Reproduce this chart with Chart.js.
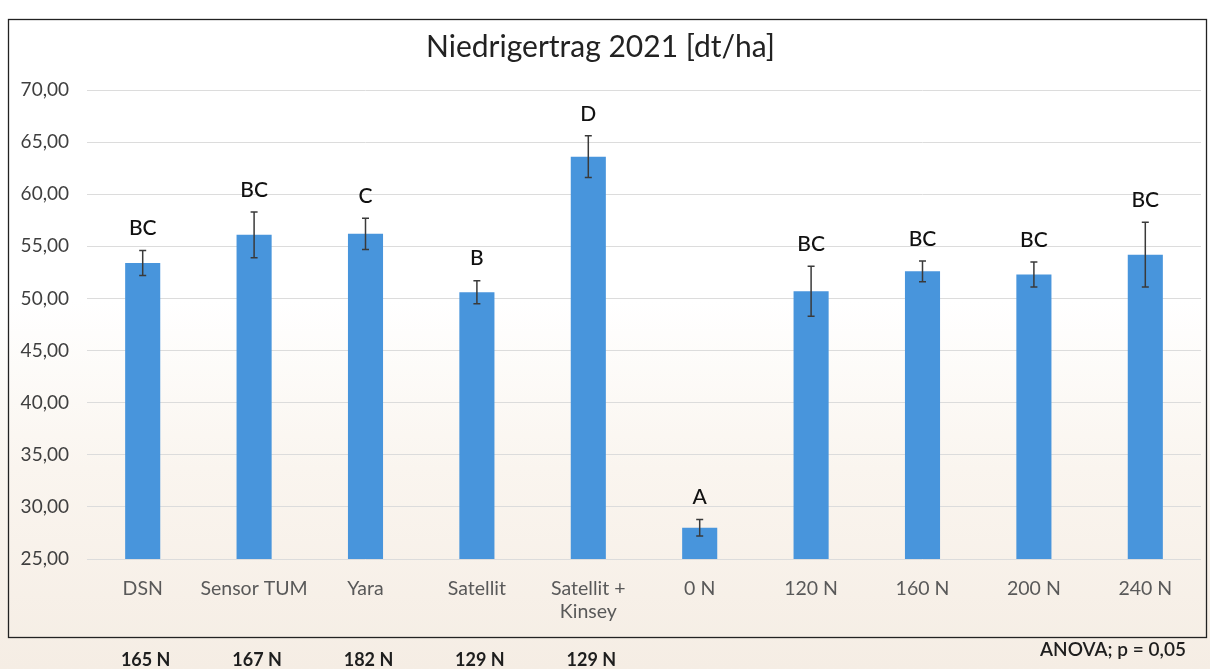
<!DOCTYPE html>
<html>
<head>
<meta charset="utf-8">
<script src="https://cdn.jsdelivr.net/npm/chart.js@4/dist/chart.umd.min.js"></script>
<style>
  html, body { margin: 0; padding: 0; }
  body {
    width: 1210px; height: 669px; overflow: hidden;
    background: linear-gradient(to bottom, #ffffff 0%, #ffffff 45%, #faf5ef 70%, #f5ede4 100%);
  }
  #wrap { position: relative; width: 1210px; height: 669px; }
</style>
</head>
<body>
<div id="wrap"><canvas id="c" width="1210" height="669"></canvas></div>
<script>
// Yield per fertilisation strategy, 2021 (dt/ha)
const categories = ['DSN', 'Sensor TUM', 'Yara', 'Satellit', ['Satellit +', 'Kinsey'], '0 N', '120 N', '160 N', '200 N', '240 N'];
const yieldMeans = [53.4, 56.1, 56.2, 50.6, 63.6, 28.0, 50.7, 52.6, 52.3, 54.2];
const yieldErrors = [1.2, 2.2, 1.5, 1.1, 2.0, 0.8, 2.4, 1.0, 1.2, 3.1];
const groupLetters = ['BC', 'BC', 'C', 'B', 'D', 'A', 'BC', 'BC', 'BC', 'BC'];
const nitrogenApplied = ['165 N', '167 N', '182 N', '129 N', '129 N'];
const yTicks = [25, 30, 35, 40, 45, 50, 55, 60, 65, 70];
const anovaNote = 'ANOVA; p = 0,05';

const FONT = 'Lato, "Open Sans", sans-serif';

// Frame, error bars, significance letters and the N amounts below the frame
const annotations = {
  id: 'annotations',
  afterDatasetsDraw(chart) {
    const ctx = chart.ctx;
    const x = chart.scales.x, y = chart.scales.y;
    ctx.save();

    // error bars
    ctx.strokeStyle = '#3a3a3a';
    ctx.lineWidth = 1.5;
    yieldMeans.forEach((m, i) => {
      const cx = x.getPixelForValue(i);
      const top = y.getPixelForValue(m + yieldErrors[i]);
      const bot = y.getPixelForValue(m - yieldErrors[i]);
      ctx.beginPath();
      ctx.moveTo(cx, top); ctx.lineTo(cx, bot);
      ctx.moveTo(cx - 3.5, top); ctx.lineTo(cx + 3.5, top);
      ctx.moveTo(cx - 3.5, bot); ctx.lineTo(cx + 3.5, bot);
      ctx.stroke();
    });

    // significance letters
    ctx.fillStyle = '#111111';
    ctx.font = '500 21px ' + FONT;
    ctx.textAlign = 'center';
    ctx.textBaseline = 'middle';
    yieldMeans.forEach((m, i) => {
      const cx = x.getPixelForValue(i);
      const top = y.getPixelForValue(m + yieldErrors[i]);
      ctx.fillText(groupLetters[i], cx, top - 22);
    });

    // outer frame
    ctx.strokeStyle = '#222222';
    ctx.lineWidth = 1.3;
    ctx.strokeRect(8.5, 19.5, 1198, 618);

    // nitrogen amounts below the frame
    ctx.fillStyle = '#1e1e1e';
    ctx.font = 'bold 18px ' + FONT;
    nitrogenApplied.forEach((t, i) => {
      ctx.fillText(t, x.getPixelForValue(i) + 3, 660);
    });

    ctx.textAlign = 'right';
    ctx.font = '600 19px ' + FONT;
    ctx.fillText(anovaNote, 1186, 650);
    ctx.restore();
  }
};

new Chart(document.getElementById('c'), {
  type: 'bar',
  data: {
    labels: categories,
    datasets: [{
      data: yieldMeans,
      backgroundColor: '#4895dc',
      borderWidth: 0,
      barPercentage: 0.9,
      categoryPercentage: 0.35
    }]
  },
  options: {
    responsive: false,
    animation: false,
    devicePixelRatio: 1,
    layout: { padding: { left: 0, right: 9, top: 0, bottom: 0 } },
    plugins: {
      legend: { display: false },
      tooltip: { enabled: false },
      title: {
        display: true,
        text: 'Niedrigertrag 2021 [dt/ha]',
        color: '#222222',
        font: { family: FONT, size: 30, weight: 'normal' },
        padding: { top: 29, bottom: 25 }
      }
    },
    scales: {
      x: {
        grid: { display: false, drawTicks: false },
        border: { display: false },
        ticks: {
          color: '#595959',
          font: { family: FONT, size: 19.5, lineHeight: 1.2 },
          padding: 18,
          maxRotation: 0,
          autoSkip: false
        },
        afterFit(scale) { scale.height = 110; }
      },
      y: {
        min: 25,
        max: 70,
        afterBuildTicks(scale) { scale.ticks = yTicks.map(v => ({ value: v })); },
        grid: { color: '#dcdcdc', lineWidth: 1, drawTicks: false },
        border: { display: false },
        ticks: {
          color: '#3f3f3f',
          font: { family: FONT, size: 19 },
          padding: 18,
          callback: v => v.toFixed(2).replace('.', ',')
        },
        afterFit(scale) { scale.width = 87; }
      }
    }
  },
  plugins: [annotations]
});
</script>
</body>
</html>
